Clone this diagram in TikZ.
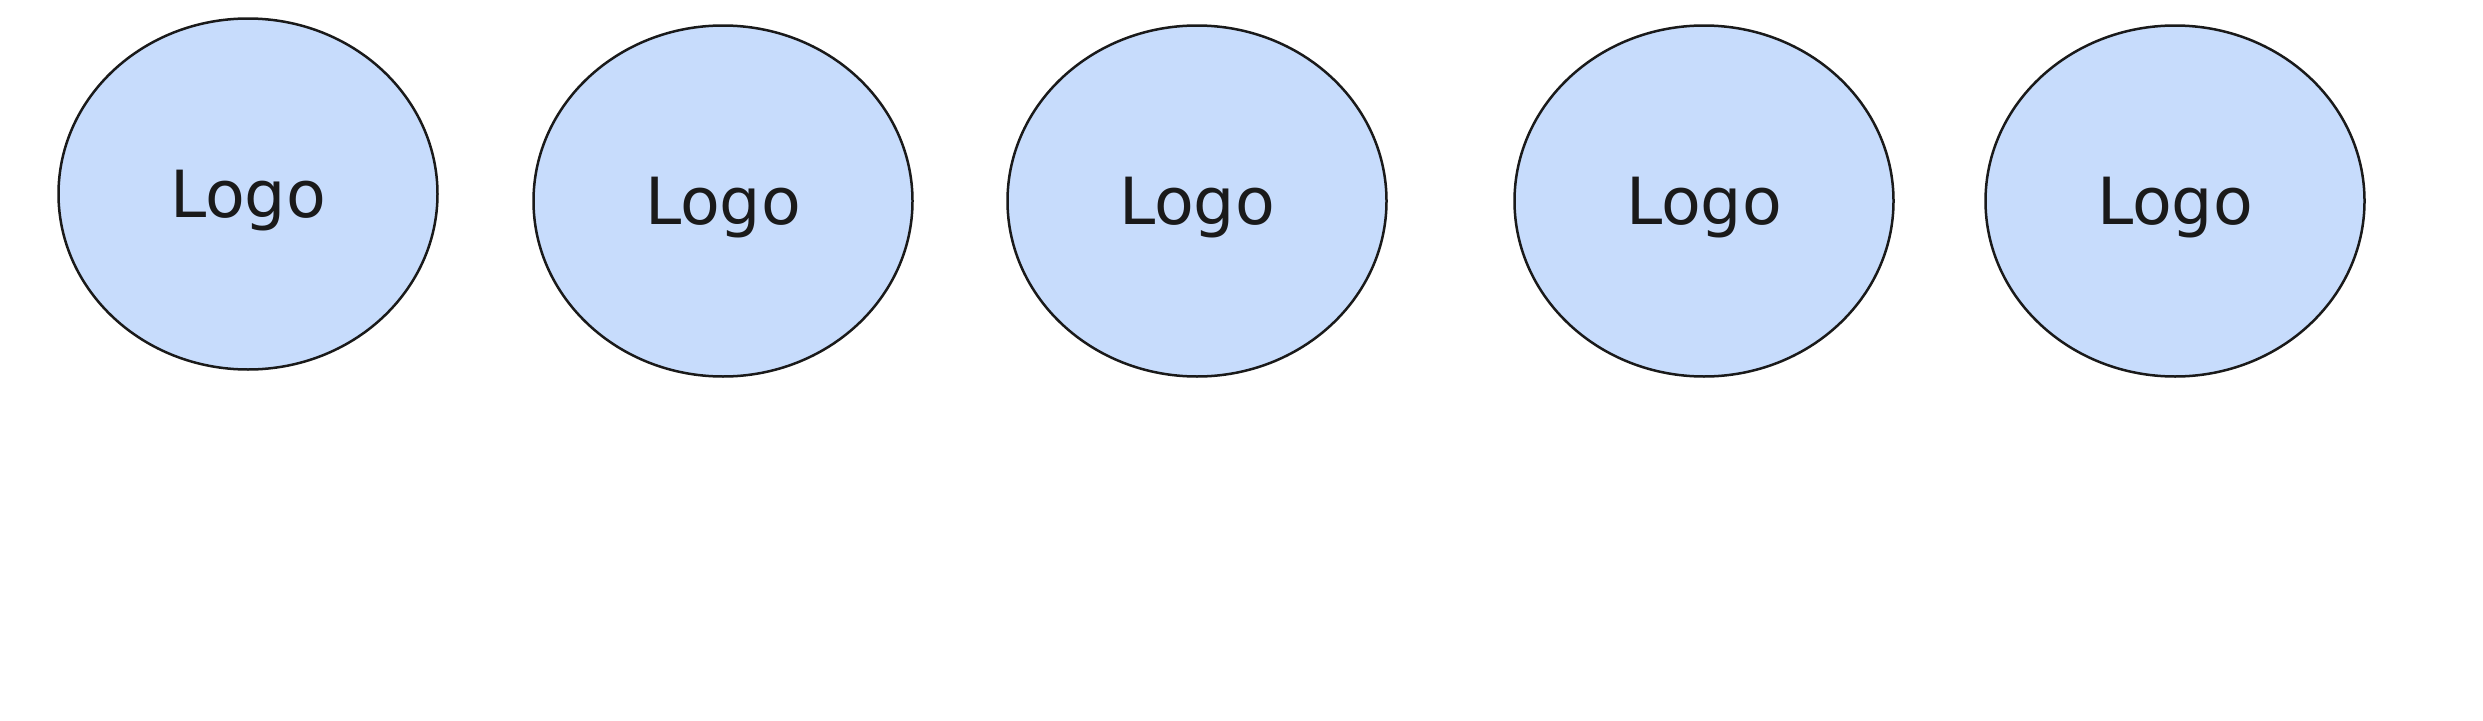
\documentclass[tikz,border=0pt]{standalone}
\usepackage{fontspec}
\setmainfont{DejaVu Sans}
\usepackage{xcolor}
\usepackage{tikz}
\usetikzlibrary{shapes.geometric}
\definecolor{logoblue}{RGB}{199,220,252}
\definecolor{logoink}{RGB}{26,26,26}

\begin{document}
\begin{tikzpicture}[x=1pt, y=-1pt,
    logo/.style={ellipse, draw=logoink, fill=logoblue, line width=2.5pt, minimum width=379pt, minimum height=351pt, inner sep=0pt, text=logoink, text depth=0pt, font=\fontsize{65}{78}\selectfont}]
            \useasboundingbox (0, 0) rectangle (2483, 720);
            \node (1) at (248, 194) [logo] {Logo};
            \node (2) at (723, 201) [logo] {Logo};
            \node (3) at (1197, 201) [logo] {Logo};
            \node (4) at (1704, 201) [logo] {Logo};
            \node (5) at (2175, 201) [logo] {Logo};
        \end{tikzpicture}
\end{document}
